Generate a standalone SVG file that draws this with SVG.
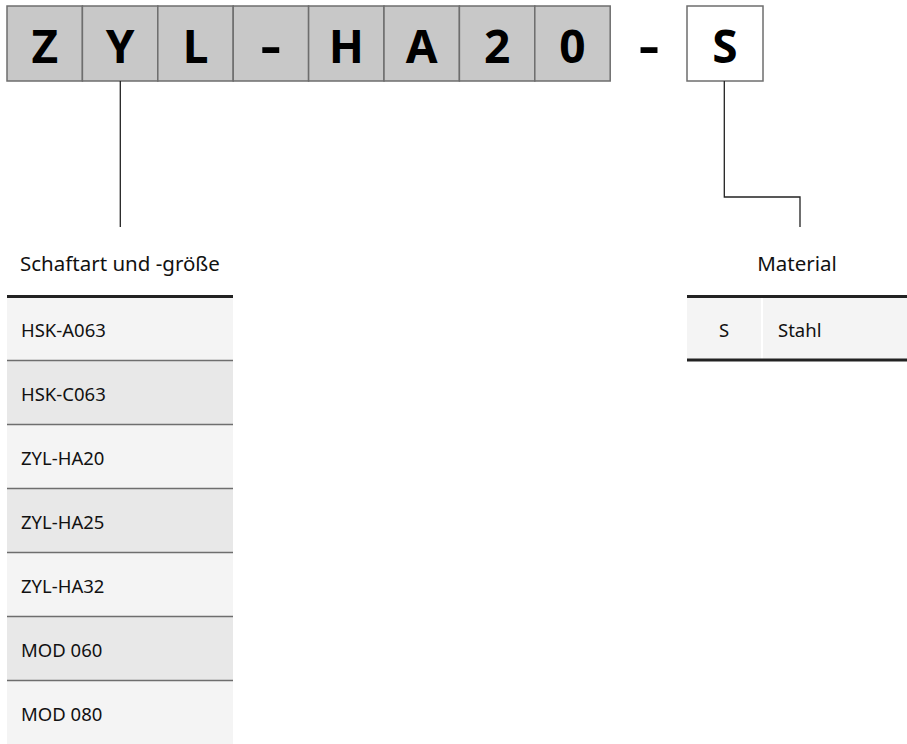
<svg xmlns="http://www.w3.org/2000/svg" width="907" height="744" viewBox="0 0 907 744">
<style>
.box{fill:#c8c8c8;stroke:#6e6e6e;stroke-width:1.5}
.boxw{fill:#ffffff;stroke:#6e6e6e;stroke-width:1.5}
.big{font-family:"Noto Sans","Open Sans",sans-serif;font-weight:bold;font-size:46px;fill:#000;text-anchor:middle}
.lbl{font-family:"Noto Sans","Open Sans",sans-serif;font-size:20.5px;fill:#111}
.cell{font-family:"Noto Sans","Open Sans",sans-serif;font-size:18.5px;fill:#111}
.conn{fill:none;stroke:#222;stroke-width:1.3}
.thick{stroke:#222;stroke-width:3}
.thin{stroke:#6e6e6e;stroke-width:1.5}
.r1{fill:#f4f4f4}
.r2{fill:#e8e8e8}
</style>
<g id="code">
<g id="c1"><rect class="box" x="7" y="6" width="75.4" height="75"/><text class="big" x="44.7" y="63">Z</text></g>
<g id="c2"><rect class="box" x="82.4" y="6" width="75.4" height="75"/><text class="big" x="120.1" y="63">Y</text></g>
<g id="c3"><rect class="box" x="157.8" y="6" width="75.4" height="75"/><text class="big" x="195.5" y="63">L</text></g>
<g id="c4"><rect class="box" x="233.2" y="6" width="75.4" height="75"/><text class="big" x="270.9" y="63" transform="translate(270.9 0) scale(1.4 1) translate(-270.9 0)">-</text></g>
<g id="c5"><rect class="box" x="308.6" y="6" width="75.4" height="75"/><text class="big" x="346.3" y="63">H</text></g>
<g id="c6"><rect class="box" x="384" y="6" width="75.4" height="75"/><text class="big" x="421.7" y="63">A</text></g>
<g id="c7"><rect class="box" x="459.4" y="6" width="75.4" height="75"/><text class="big" x="497.1" y="63">2</text></g>
<g id="c8"><rect class="box" x="534.8" y="6" width="75.4" height="75"/><text class="big" x="572.5" y="63">0</text></g>
<g id="dash"><text class="big" x="649" y="63" transform="translate(649 0) scale(1.4 1) translate(-649 0)">-</text></g>
<g id="c9"><rect class="boxw" x="687" y="6" width="76" height="75"/><text class="big" x="725" y="63">S</text></g>
</g>
<g id="connectors">
<path class="conn" d="M120.3 81 V227"/>
<path class="conn" d="M724.3 81 V197 H800 V227"/>
</g>
<g id="schaft">
<text class="lbl" x="20" y="271">Schaftart und -größe</text>
<rect class="r1" x="7" y="296" width="226" height="64"/>
<rect class="r2" x="7" y="360" width="226" height="64"/>
<rect class="r1" x="7" y="424" width="226" height="64"/>
<rect class="r2" x="7" y="488" width="226" height="64"/>
<rect class="r1" x="7" y="552" width="226" height="64"/>
<rect class="r2" x="7" y="616" width="226" height="64"/>
<rect class="r1" x="7" y="680" width="226" height="64"/>
<line class="thin" x1="7" y1="360.5" x2="233" y2="360.5"/>
<line class="thin" x1="7" y1="424.5" x2="233" y2="424.5"/>
<line class="thin" x1="7" y1="488.5" x2="233" y2="488.5"/>
<line class="thin" x1="7" y1="552.5" x2="233" y2="552.5"/>
<line class="thin" x1="7" y1="616.5" x2="233" y2="616.5"/>
<line class="thin" x1="7" y1="680.5" x2="233" y2="680.5"/>
<line class="thick" x1="7" y1="296.5" x2="233" y2="296.5"/>
<text class="cell" x="21" y="337">HSK-A063</text>
<text class="cell" x="21" y="401">HSK-C063</text>
<text class="cell" x="21" y="465">ZYL-HA20</text>
<text class="cell" x="21" y="529">ZYL-HA25</text>
<text class="cell" x="21" y="593">ZYL-HA32</text>
<text class="cell" x="21" y="657">MOD 060</text>
<text class="cell" x="21" y="721">MOD 080</text>
</g>
<g id="material">
<text class="lbl" x="797" y="271" text-anchor="middle">Material</text>
<rect class="r1" x="687" y="296" width="220" height="64"/>
<line x1="762" y1="297" x2="762" y2="359" stroke="#ffffff" stroke-width="2"/>
<line class="thick" x1="687" y1="296.5" x2="907" y2="296.5"/>
<line class="thick" x1="687" y1="360" x2="907" y2="360"/>
<text class="cell" x="724" y="337" text-anchor="middle">S</text>
<text class="cell" x="778" y="337">Stahl</text>
</g>
</svg>
